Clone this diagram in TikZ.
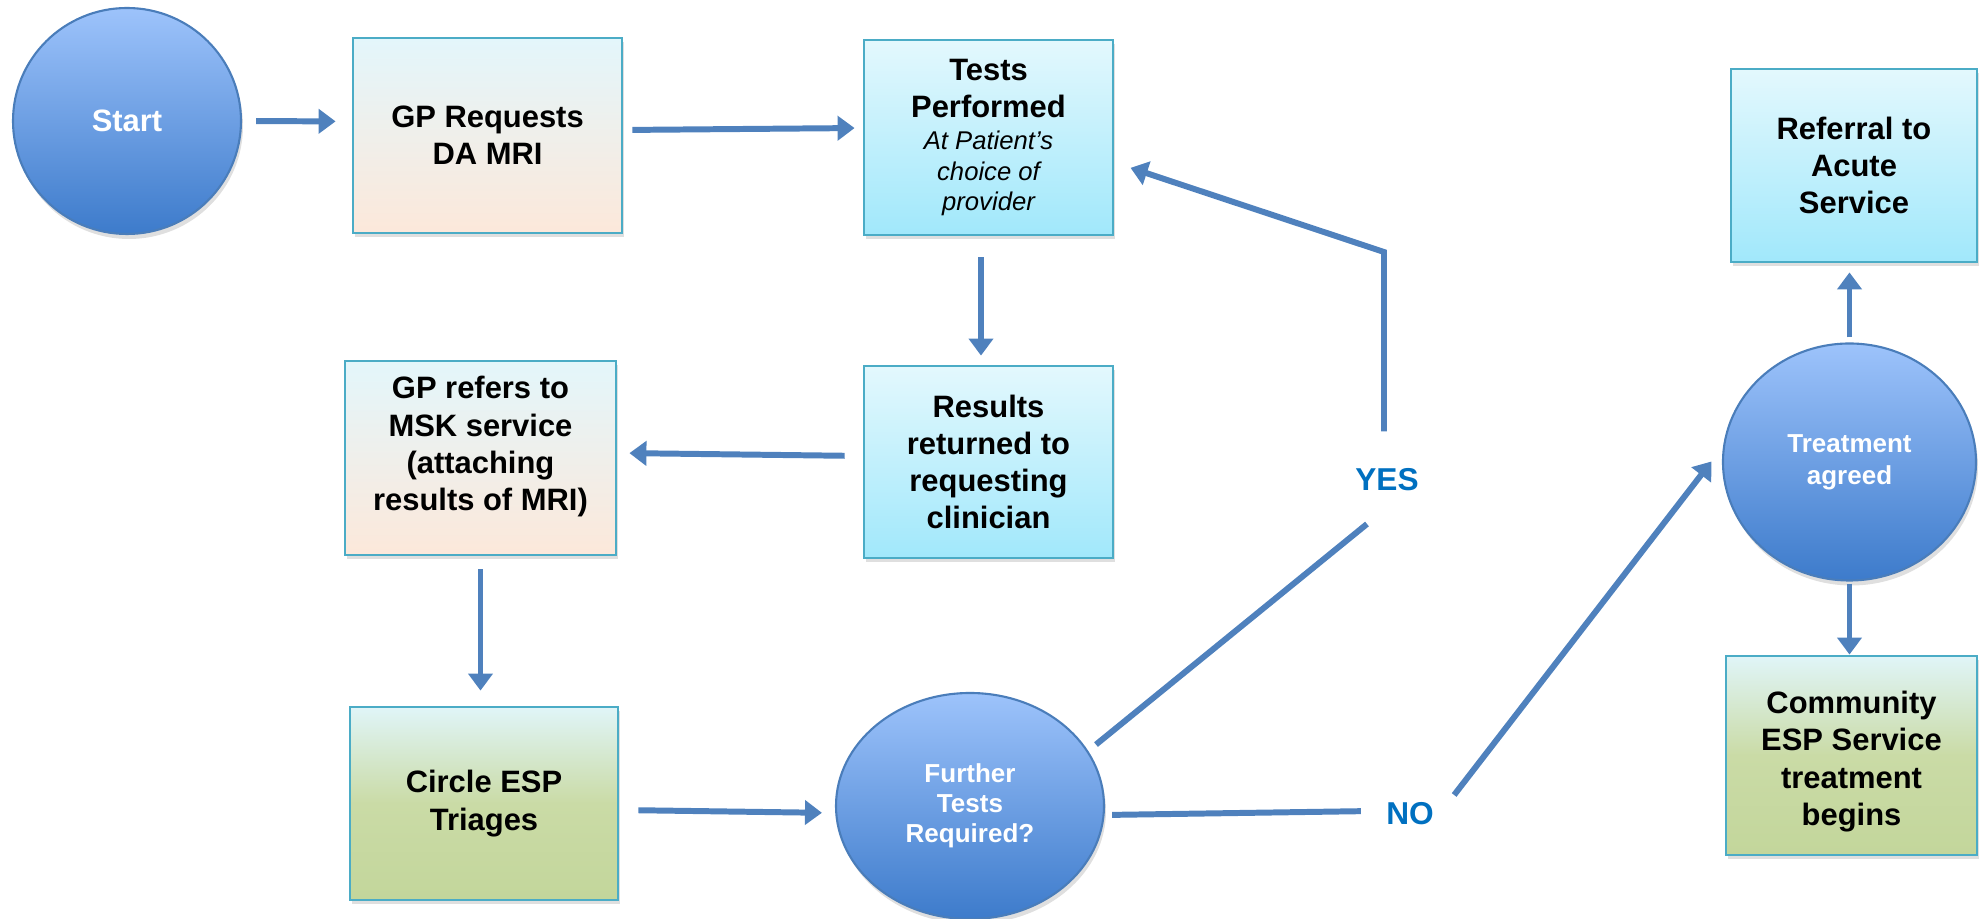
\documentclass[tikz,border=0pt]{standalone}
\usepackage{fontspec}
\setmainfont{Liberation Sans}
\usetikzlibrary{positioning}
\usetikzlibrary{shapes.geometric}
\usetikzlibrary{arrows.meta}
\usetikzlibrary{shadows}
\definecolor{arrowblue}{HTML}{4F81BD}
\definecolor{boxedge}{HTML}{4BACC6}
\definecolor{ovaltop}{HTML}{9DC3FB}
\definecolor{ovalbot}{HTML}{3D7BCB}
\definecolor{ovaledge}{HTML}{4A7DBA}
\definecolor{cyantop}{HTML}{E3F8FD}
\definecolor{cyanbot}{HTML}{A1E8FB}
\definecolor{peachtop}{HTML}{E3F6FB}
\definecolor{peachbot}{HTML}{FCE8DA}
\definecolor{greentop}{HTML}{E0F5F8}
\definecolor{greenmid}{HTML}{CADBA6}
\definecolor{greenbot}{HTML}{C3D69B}
\definecolor{answerblue}{HTML}{0070C0}
\newcommand{\provnote}[1]{{\fontsize{7.3}{8.5}\selectfont\mdseries\itshape #1}}
\tikzset{
	every node/.style = {font=\fontsize{8.8}{10.6}\selectfont\bfseries, align=center},
	box/.style = {rectangle, draw=boxedge, line width=0.8pt,
		drop shadow={opacity=0.25, shadow xshift=0.02cm, shadow yshift=-0.04cm}},
	peachbox/.style = {box, top color=peachtop, bottom color=peachbot},
	cyanbox/.style = {box, top color=cyantop, bottom color=cyanbot},
	greenbox/.style = {box, top color=greentop, bottom color=greenbot, middle color=greenmid},
	oval/.style = {ellipse, draw=ovaledge, line width=0.6pt, inner sep=0pt,
		top color=ovaltop, bottom color=ovalbot, text=white,
		drop shadow={opacity=0.25, shadow xshift=0.02cm, shadow yshift=-0.05cm}},
	smalltext/.style = {font=\fontsize{7.4}{8.6}\selectfont\bfseries},
	flowline/.style = {draw=arrowblue, line width=1.7pt},
	flow/.style = {flowline, -{Triangle[length=0.17cm, width=0.24cm]}},
	answer/.style = {text=answerblue, font=\fontsize{9}{10}\selectfont\bfseries}
}
\begin{document}
\begin{tikzpicture}
	\useasboundingbox (0,0) rectangle (19.79,-9.19);
	% top row
	\node[oval, minimum width=2.28cm, minimum height=2.26cm] (start) at (1.27,-1.21) {Start};
	\node[peachbox, minimum width=2.69cm, minimum height=1.95cm] (gpreq) at (4.875,-1.355) {GP Requests\\DA MRI};
	\node[cyanbox, minimum width=2.49cm, minimum height=1.95cm] (tests) at (9.885,-1.375)
		{Tests\\Performed\\[-1.5pt]\provnote{At Patient’s}\\[-2pt]\provnote{choice of}\\[-2pt]\provnote{provider}};
	% middle row
	\node[cyanbox, minimum width=2.49cm, minimum height=1.92cm] (results) at (9.885,-4.62) {Results\\returned to\\requesting\\clinician};
	\node[peachbox, minimum width=2.71cm, minimum height=1.94cm] (gpref) at (4.805,-4.58) {GP refers to\\MSK service\\(attaching\\results of MRI)\\[-2.4pt]\mbox{}};
	% bottom row
	\node[greenbox, minimum width=2.68cm, minimum height=1.93cm] (triage) at (4.84,-8.035) {Circle ESP\\Triages};
	\node[oval, smalltext, minimum width=2.68cm, minimum height=2.26cm] (further) at (9.70,-8.06) {Further\\Tests\\Required?};
	% right column
	\node[oval, smalltext, minimum width=2.53cm, minimum height=2.37cm, font=\fontsize{7.4}{9.2}\selectfont\bfseries] (treat) at (18.495,-4.62) {Treatment\\agreed};
	\node[cyanbox, minimum width=2.46cm, minimum height=1.93cm] (referral) at (18.54,-1.655) {Referral to\\Acute\\Service};
	\node[greenbox, minimum width=2.51cm, minimum height=1.99cm] (community) at (18.515,-7.555) {\mbox{}\\[-0.8pt]Community\\ESP Service\\treatment\\begins};
	% answers
	\node[answer] (yes) at (13.87,-4.80) {YES};
	\node[answer] (no) at (14.10,-8.14) {NO};
	\coordinate (yescorner) at (13.84,-2.52);

	% arrows
	\draw[flow, shorten <=0.14cm, shorten >=0.16cm] (start.east) -- ([yshift=0.14cm]gpreq.west);
	\draw[flow, shorten <=0.09cm, shorten >=0.08cm] ([yshift=0.055cm]gpreq.east) -- ([yshift=0.095cm]tests.west);
	\draw[flow, shorten <=0.21cm, shorten >=0.09cm] ([xshift=-0.075cm]tests.south) -- ([xshift=-0.075cm]results.north);
	\draw[flow, shorten <=0.18cm, shorten >=0.12cm] ([yshift=0.06cm]results.west) -- ([yshift=0.05cm]gpref.east);
	\draw[flow, shorten <=0.13cm, shorten >=0.15cm] (gpref.south) -- (gpref.south |- triage.north);
	\draw[flow, shorten <=0.19cm, shorten >=0.13cm] ([yshift=-0.065cm]triage.east) -- ([yshift=-0.07cm]further.west);
	% yes branch
	\draw[flowline, shorten <=0.1cm] (further.25) -- ([xshift=-0.20cm, yshift=-0.44cm]yes.center);
	\draw[flow, shorten >=0.17cm] ([yshift=0.25cm]yescorner |- yes.north) -- (yescorner) -- ([yshift=-0.25cm]tests.east);
	% no branch
	\draw[flowline, shorten <=0.07cm, shorten >=0.13cm] ([yshift=-0.09cm]further.east) -- ([yshift=0.03cm]no.west);
	\draw[flow, shorten >=0.17cm] ([xshift=0.08cm, yshift=0.19cm]no.east) -- ([yshift=0.14cm]treat.west);
	% outcomes
	\draw[flow, shorten <=0.05cm, shorten >=0.09cm] (treat.north) -- (treat.north |- referral.south);
	\draw[flow, shorten <=0.02cm] (treat.south) -- (treat.south |- community.north);
\end{tikzpicture}
\end{document}
